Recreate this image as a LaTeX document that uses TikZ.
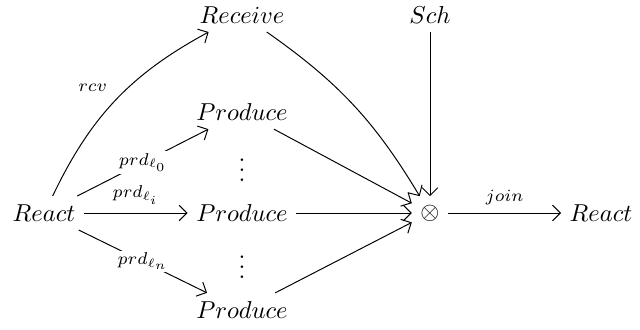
\documentclass[tikz,border=0pt]{standalone}
\usepackage{amsmath}
\usepackage{amssymb}
\usetikzlibrary{
        arrows,
        arrows.meta,
        positioning
    }
\tikzset{>={Straight Barb[length=3.2pt,width=6.4pt]},auto}
\tikzset{onl/.style={fill=white,inner sep=1pt,anchor=center}}
\tikzset{dts/.style={inner sep=0pt}}

\begin{document}
\begin{tikzpicture}[x=0.01436cm,y=0.01436cm]
                    \useasboundingbox (0,0) rectangle (640,329);
                    \node (r1)  at (44,116)   {$React$};
                    \node (rcv) at (242,314)  {$Receive$};
                    \node (sch) at (430,314)  {$Sch$};
                    \node (p0)  at (242,217)  {$Produce$};
                    \node (pi)  at (242,116)  {$Produce$};
                    \node (pn)  at (242,19)   {$Produce$};
                    \node[dts] (d1)  at (242,166)  {$\vdots$};
                    \node[dts] (d2)  at (242,69)   {$\vdots$};
                    \node (j)   at (430,116)  {$\otimes$};
                    \node (r2)  at (601,116)  {$React$};
                    \path[->]
                        (r1)  edge[bend left=18]  node {$\scriptstyle rcv$} (rcv)
                        (r1)  edge  node[onl] {$\scriptstyle prd_{\ell_0}$} (p0)
                        (r1)  edge  node {$\scriptstyle prd_{\ell_i}$} (pi)
                        (r1)  edge  node[onl] {$\scriptstyle prd_{\ell_n}$} (pn)
                        (rcv) edge[bend left=12] (j)
                        (p0)  edge  (j)
                        (pi)  edge  (j)
                        (pn)  edge  (j)
                        (sch) edge  (j)
                        (j)   edge  node {$\scriptstyle join$} (r2)
                    ;
                \end{tikzpicture}
\end{document}
